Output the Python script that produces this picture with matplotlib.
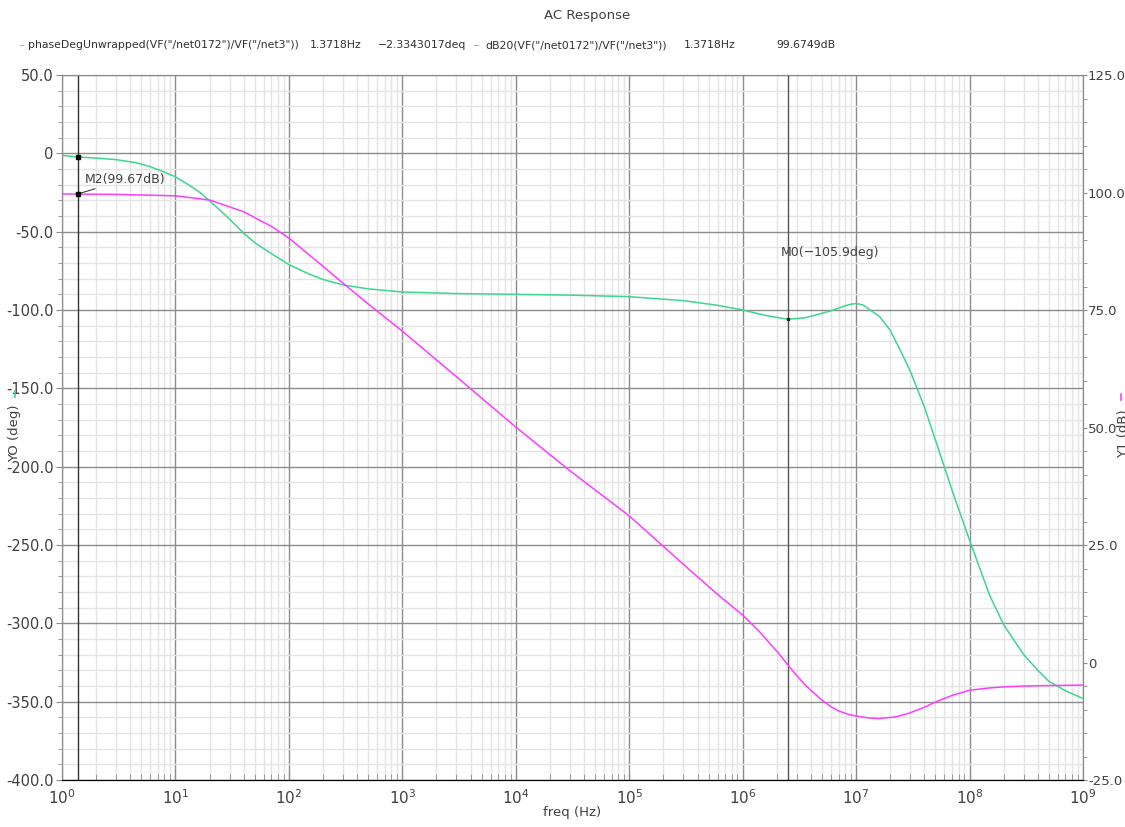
import numpy as np
import matplotlib.pyplot as plt
from matplotlib.lines import Line2D
from matplotlib.ticker import LogLocator, MultipleLocator, NullFormatter

plt.rcParams['font.family'] = ['DejaVu Sans']

# phase (deg)
freq_ph = [1, 1.37, 2, 3, 4.5, 6, 8, 10, 13, 16.5, 22, 30, 40, 50, 70, 100, 150, 200, 300,
           500, 1e3, 3e3, 1e4, 3e4, 1e5, 3e5, 6e5, 1e6, 1.6e6, 2.5e6, 3.5e6, 4.5e6, 6e6,
           7e6, 8e6, 9e6, 1e7, 1.15e7, 1.3e7, 1.6e7, 2e7, 2.5e7, 3e7, 4e7, 5e7, 7e7, 1e8,
           1.5e8, 2e8, 3e8, 4e8, 5e8, 7e8, 1e9]
phase = [-1.3, -2.33, -3.0, -4.0, -6.0, -8.5, -12.0, -15.0, -20.0, -25.0, -33.0, -42.0,
         -51.0, -57.0, -64.0, -71.0, -77.0, -80.5, -84.0, -86.5, -88.5, -89.5, -90.0, -90.5,
         -91.5, -94.0, -97.0, -100.0, -103.5, -105.9, -105.0, -103.0, -100.5, -98.8, -97.3,
         -96.3, -95.8, -96.8, -99.5, -104.0, -113.0, -127.0, -139.0, -162.0, -183.0, -215.0,
         -247.0, -282.0, -301.0, -320.0, -330.0, -337.0, -343.0, -348.0]

# magnitude (dB)
freq_db = [1, 1.37, 3, 10, 20, 40, 70, 100, 200, 300, 500, 1e3, 3e3, 1e4, 3e4, 1e5, 3e5,
           6e5, 1e6, 1.4e6, 2e6, 2.5e6, 3e6, 3.5e6, 4.2e6, 5e6, 6e6, 7e6, 8.5e6, 1e7, 1.3e7,
           1.6e7, 2.2e7, 3e7, 4e7, 5e7, 7e7, 1e8, 1.5e8, 2e8, 3e8, 5e8, 1e9]
mag_db = [99.7, 99.67, 99.6, 99.3, 98.4, 95.9, 92.8, 90.3, 84.3, 80.7, 76.3, 70.5, 60.8,
          50.1, 40.8, 31.2, 20.9, 14.5, 10.1, 6.6, 2.4, -0.5, -2.8, -4.6, -6.4, -8.0, -9.4,
          -10.3, -11.0, -11.4, -11.8, -11.9, -11.6, -10.7, -9.5, -8.4, -7.0, -5.9, -5.4,
          -5.2, -5.0, -4.9, -4.8]

marker_f = 1.3718
m0_f = 2.5e6

green = '#3cd68e'
magenta = '#ff3cff'
tick_col = '#404040'
txt_col = '#303030'

fig = plt.figure(figsize=(11.25, 8.27), dpi=100)
ax = fig.add_axes([0.0551, 0.0568, 0.9076, 0.8525])
ax2 = ax.twinx()

ax.set_xscale('log')
ax.set_xlim(1, 1e9)
ax.set_ylim(-400, 50)
ax2.set_ylim(-25, 125)

ax.xaxis.set_major_locator(LogLocator(base=10, numticks=20))
ax.xaxis.set_minor_locator(LogLocator(base=10, subs=np.arange(2, 10), numticks=20))
ax.xaxis.set_minor_formatter(NullFormatter())
ax.yaxis.set_minor_locator(MultipleLocator(10))
ax.set_yticks(np.arange(-400, 51, 50))
ax.set_yticklabels(['%.1f' % v if v != 0 else '0' for v in np.arange(-400, 51, 50)])
ax2.yaxis.set_minor_locator(MultipleLocator(5))
ax2.set_yticks(np.arange(-25, 126, 25))
ax2.set_yticklabels(['%.1f' % v if v != 0 else '0' for v in np.arange(-25, 126, 25)])

ax.grid(True, which='major', color='#8c8c8c', linewidth=1.0)
ax.grid(True, which='minor', color='#e4e4e4', linewidth=1.0)
ax.set_axisbelow(True)

for a in (ax, ax2):
    for s in ('left', 'right', 'top'):
        a.spines[s].set_color('#8c8c8c')
    a.spines['bottom'].set_color('black')
    a.tick_params(which='both', colors='#8c8c8c', labelcolor=tick_col, labelsize=10.5)
    a.tick_params(which='major', length=4)
    a.tick_params(which='minor', length=3)
ax.tick_params(axis='y', which='major', pad=2)
ax2.tick_params(axis='y', which='major', length=3, pad=0.5, labelsize=9.5)
ax.tick_params(axis='x', which='both', direction='in', length=4)
ax.tick_params(axis='x', which='major', pad=6, labelsize=11)

ax.axvline(marker_f, color='#333333', linewidth=1.0, zorder=1)
ax.axvline(m0_f, color='#555555', linewidth=1.0, zorder=1)

ax.plot(freq_ph, phase, color=green, linewidth=1.1, zorder=3)
ax2.plot(freq_db, mag_db, color=magenta, linewidth=1.1, zorder=3)

ax.plot([marker_f], [-2.33], 's', color='black', markersize=3.5, zorder=4)
ax.plot([m0_f], [-105.9], 's', color='#222222', markersize=2, zorder=4)
ax2.plot([marker_f], [99.67], 's', color='black', markersize=3.5, zorder=4)
ax2.annotate('M2(99.67dB)', xy=(marker_f, 99.67), xytext=(1.6, 101.4),
             fontsize=9, color=tick_col, va='bottom',
             arrowprops=dict(arrowstyle='-', color=tick_col, linewidth=0.8,
                             shrinkA=0, shrinkB=0))
ax.text(2.15e6, -63, 'M0(\u2212105.9deg)', fontsize=9, color=tick_col, va='center')

ax.set_xlabel('freq (Hz)', fontsize=9.5, color=tick_col, labelpad=-1)

# axis titles, each with a short dash in its trace colour
fig.text(15 / 1125, 1 - 433 / 827, 'YO (deg)', rotation=90, fontsize=9.5,
         color=tick_col, ha='center', va='center')
fig.add_artist(Line2D([15 / 1125, 15 / 1125], [1 - 391 / 827, 1 - 397 / 827],
                      color=green, linewidth=1.2))
fig.text(1124 / 1125, 1 - 434 / 827, 'Y1 (dB)', rotation=90, fontsize=9.5,
         color=tick_col, ha='center', va='center')
fig.add_artist(Line2D([1121 / 1125, 1121 / 1125], [1 - 394 / 827, 1 - 400 / 827],
                      color=magenta, linewidth=1.2))

fig.text(0.522, 0.981, 'AC Response', ha='center', va='center', fontsize=9.5,
         color=tick_col)

ly = 0.945
fs = 7.8
fig.text(0.016, ly, '\u2013', color=green, fontsize=fs, va='center')
fig.text(0.025, ly, 'phaseDegUnwrapped(VF("/net0172")/VF("/net3"))', fontsize=fs,
         color=txt_col, va='center')
fig.text(0.275, ly, '1.3718Hz', fontsize=fs, color=txt_col, va='center')
fig.text(0.336, ly, '\u22122.3343017deq', fontsize=fs, color=txt_col, va='center')
fig.text(0.421, ly, '\u2013', color=magenta, fontsize=fs, va='center')
fig.text(0.431, ly, 'dB20(VF("/net0172")/VF("/net3"))', fontsize=fs, color=txt_col,
         va='center')
fig.text(0.608, ly, '1.3718Hz', fontsize=fs, color=txt_col, va='center')
fig.text(0.690, ly, '99.6749dB', fontsize=fs, color=txt_col, va='center')

fig.savefig('out.png', dpi=100)
